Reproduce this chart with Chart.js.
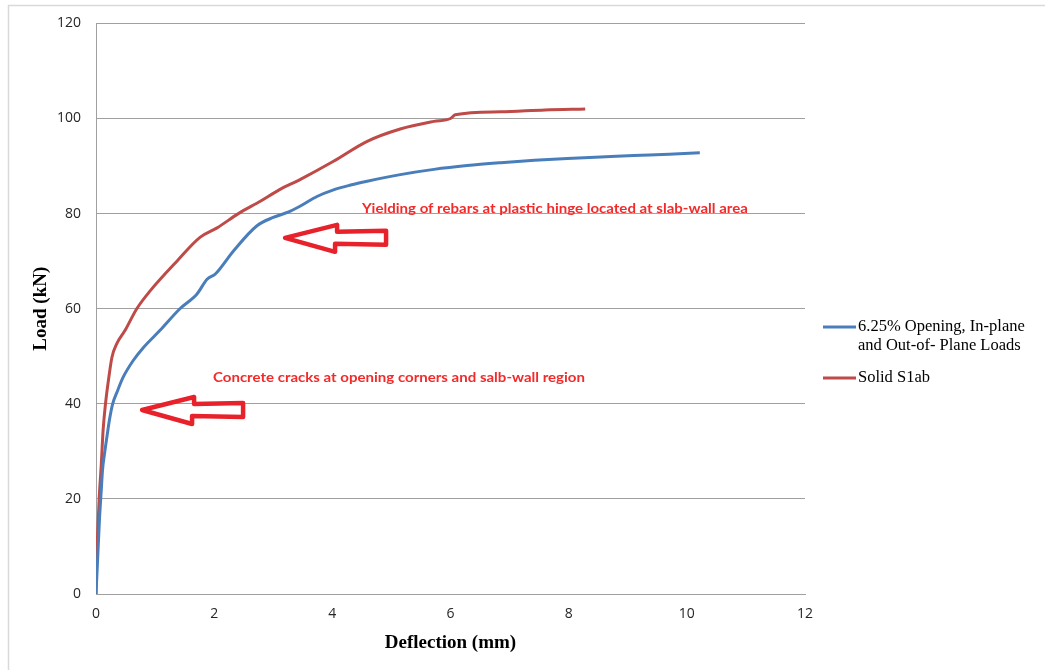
<!DOCTYPE html>
<html>
<head>
<meta charset="utf-8">
<script src="https://cdn.jsdelivr.net/npm/chart.js@4.4.1/dist/chart.umd.min.js"></script>
<style>
  html, body { margin: 0; padding: 0; background: #fff; }
  #wrap { width: 1045px; height: 670px; position: relative; }
</style>
</head>
<body>
<div id="wrap"><canvas id="c" width="1045" height="670"></canvas></div>
<script>
// Load–deflection curves (deflection in mm, load in kN)
const openingDeflection = [0, 0.03, 0.06, 0.09, 0.11, 0.15, 0.19, 0.23, 0.28, 0.36, 0.46, 0.63, 0.8, 1.08, 1.42, 1.71, 1.88, 2.02, 2.33, 2.72, 3.0, 3.25, 3.46, 3.74, 4.02, 4.31, 4.59, 5.15, 5.72, 6.28, 6.85, 7.42, 7.98, 8.54, 9.1, 9.7, 10.22];
const openingLoad       = [0, 8, 16, 22, 26, 30, 33.5, 36.8, 39.9, 42.6, 45.6, 49.1, 51.8, 55.4, 60, 63.1, 66.2, 67.3, 72.2, 77.4, 79.2, 80.3, 81.6, 83.6, 85.0, 86.0, 86.8, 88.2, 89.3, 90.1, 90.7, 91.2, 91.6, 91.9, 92.2, 92.5, 92.8];

const solidDeflection = [0, 0.01, 0.03, 0.055, 0.09, 0.12, 0.16, 0.21, 0.27, 0.35, 0.49, 0.69, 0.92, 1.37, 1.76, 2.05, 2.41, 2.78, 3.1, 3.46, 4.02, 4.59, 5.15, 5.72, 6.0, 6.08, 6.85, 7.6, 8.28];
const solidLoad       = [0, 6.5, 13.4, 20.4, 27.4, 34.4, 39.9, 44.9, 49.8, 52.6, 55.4, 60, 63.8, 70, 75, 77, 80, 82.6, 85, 87.2, 91.0, 95.2, 97.8, 99.4, 100.0, 100.8, 101.4, 101.8, 102.0];

const seriesLabels = [['6.25% Opening, In-plane', 'and Out-of- Plane Loads'], ['Solid S1ab']];
const seriesColors = ['#4a7ebb', '#be4b48'];

const xTicks = [0, 2, 4, 6, 8, 10, 12];
const yTicks = [0, 20, 40, 60, 80, 100, 120];

// Callouts: text anchored at a (deflection, load) point, arrows point at a (deflection, load) tip
const callouts = [
  { text: 'Yielding of rebars at plastic hinge located at slab-wall area', x: 4.5, y: 81, width: 386 },
  { text: 'Concrete cracks at opening corners and salb-wall region', x: 1.98, y: 45.5, width: 372 }
];
const arrowTips = [ { x: 3.2, y: 74.9 }, { x: 0.78, y: 38.7 } ];

function toPoints(xs, ys) { return xs.map((v, i) => ({ x: v, y: ys[i] })); }

const framePlugin = {
  id: 'frame',
  beforeDraw(chart) {
    const ctx = chart.ctx;
    ctx.save();
    ctx.fillStyle = '#fff';
    ctx.fillRect(0, 0, chart.width, chart.height);
    ctx.strokeStyle = '#d9d9d9';
    ctx.lineWidth = 1.5;
    ctx.beginPath();
    ctx.moveTo(8.5, chart.height);
    ctx.lineTo(8.5, 5.5);
    ctx.lineTo(chart.width, 5.5);
    ctx.stroke();
    ctx.restore();
  }
};

const annotationPlugin = {
  id: 'notes',
  afterDatasetsDraw(chart) {
    const ctx = chart.ctx;
    const xs = chart.scales.x, ys = chart.scales.y;
    ctx.save();
    // callout texts
    ctx.fillStyle = '#f22a2a';
    ctx.textBaseline = 'middle';
    ctx.textAlign = 'left';
    callouts.forEach(c => {
      ctx.font = 'bold 13px Lato, "Open Sans", sans-serif';
      const w = ctx.measureText(c.text).width;
      const px = xs.getPixelForValue(c.x), py = ys.getPixelForValue(c.y);
      ctx.save();
      ctx.translate(px, py);
      ctx.scale(c.width / w, 1);
      ctx.fillText(c.text, 0, 0);
      ctx.restore();
    });
    // hollow arrows
    ctx.strokeStyle = '#e8222a';
    ctx.lineWidth = 4.5;
    ctx.lineJoin = 'round';
    const shape = [[0, 0], [52, -13], [52, -6], [101, -7], [101, 7], [50, 6], [50, 14]];
    arrowTips.forEach(t => {
      const px = xs.getPixelForValue(t.x), py = ys.getPixelForValue(t.y);
      ctx.beginPath();
      shape.forEach((p, i) => {
        if (i === 0) ctx.moveTo(px + p[0], py + p[1]);
        else ctx.lineTo(px + p[0], py + p[1]);
      });
      ctx.closePath();
      ctx.stroke();
    });
    ctx.restore();
  },
  afterDraw(chart) {
    // legend on the right
    const ctx = chart.ctx;
    const area = chart.chartArea;
    ctx.save();
    ctx.font = '16.5px "Liberation Serif", "Times New Roman", serif';
    ctx.textBaseline = 'middle';
    ctx.textAlign = 'left';
    ctx.fillStyle = '#000';
    let y = 327;
    const lx = area.right + 18;
    seriesLabels.forEach((lines, i) => {
      ctx.strokeStyle = seriesColors[i];
      ctx.lineWidth = 3;
      ctx.beginPath();
      ctx.moveTo(lx, y);
      ctx.lineTo(lx + 33, y);
      ctx.stroke();
      lines.forEach((ln, j) => ctx.fillText(ln, lx + 35, y + j * 19));
      y += lines.length * 19 + 13;
    });
    ctx.restore();
  }
};

new Chart(document.getElementById('c'), {
  type: 'scatter',
  data: {
    datasets: [
      { label: seriesLabels[0].join(' '), data: toPoints(openingDeflection, openingLoad), showLine: true,
        borderColor: seriesColors[0], backgroundColor: seriesColors[0], borderWidth: 3, pointRadius: 0,
        cubicInterpolationMode: 'monotone' },
      { label: seriesLabels[1].join(' '), data: toPoints(solidDeflection, solidLoad), showLine: true,
        borderColor: seriesColors[1], backgroundColor: seriesColors[1], borderWidth: 3, pointRadius: 0,
        cubicInterpolationMode: 'monotone' }
    ]
  },
  options: {
    responsive: false,
    animation: false,
    layout: { padding: { left: 0, right: 240, top: 22, bottom: 0 } },
    plugins: { legend: { display: false }, tooltip: { enabled: false } },
    scales: {
      x: {
        type: 'linear', min: 0, max: 12,
        afterBuildTicks(s) { s.ticks = xTicks.map(v => ({ value: v })); },
        afterFit(s) { s.height = 76; },
        grid: { display: false, drawTicks: false },
        border: { display: true, color: '#a0a0a0', width: 1 },
        ticks: { padding: 12, color: '#262626', font: { family: '"Open Sans", sans-serif', size: 14 } },
        title: { display: true, text: 'Deflection (mm)', color: '#000',
          font: { family: '"Liberation Serif", "Times New Roman", serif', size: 19, weight: 'bold' },
          padding: { top: 0, bottom: 16 } }
      },
      y: {
        type: 'linear', min: 0, max: 120,
        afterBuildTicks(s) { s.ticks = yTicks.map(v => ({ value: v })); },
        afterFit(s) { s.width = 96; },
        grid: { color: '#a0a0a0', lineWidth: 1, drawTicks: false },
        border: { display: true, color: '#a0a0a0', width: 1 },
        ticks: { padding: 15, color: '#262626', font: { family: '"Open Sans", sans-serif', size: 14 } },
        title: { display: true, text: 'Load (kN)', color: '#000',
          font: { family: '"Liberation Serif", "Times New Roman", serif', size: 19, weight: 'bold' },
          padding: { top: 30, bottom: 0 } }
      }
    }
  },
  plugins: [framePlugin, annotationPlugin]
});
</script>
</body>
</html>
